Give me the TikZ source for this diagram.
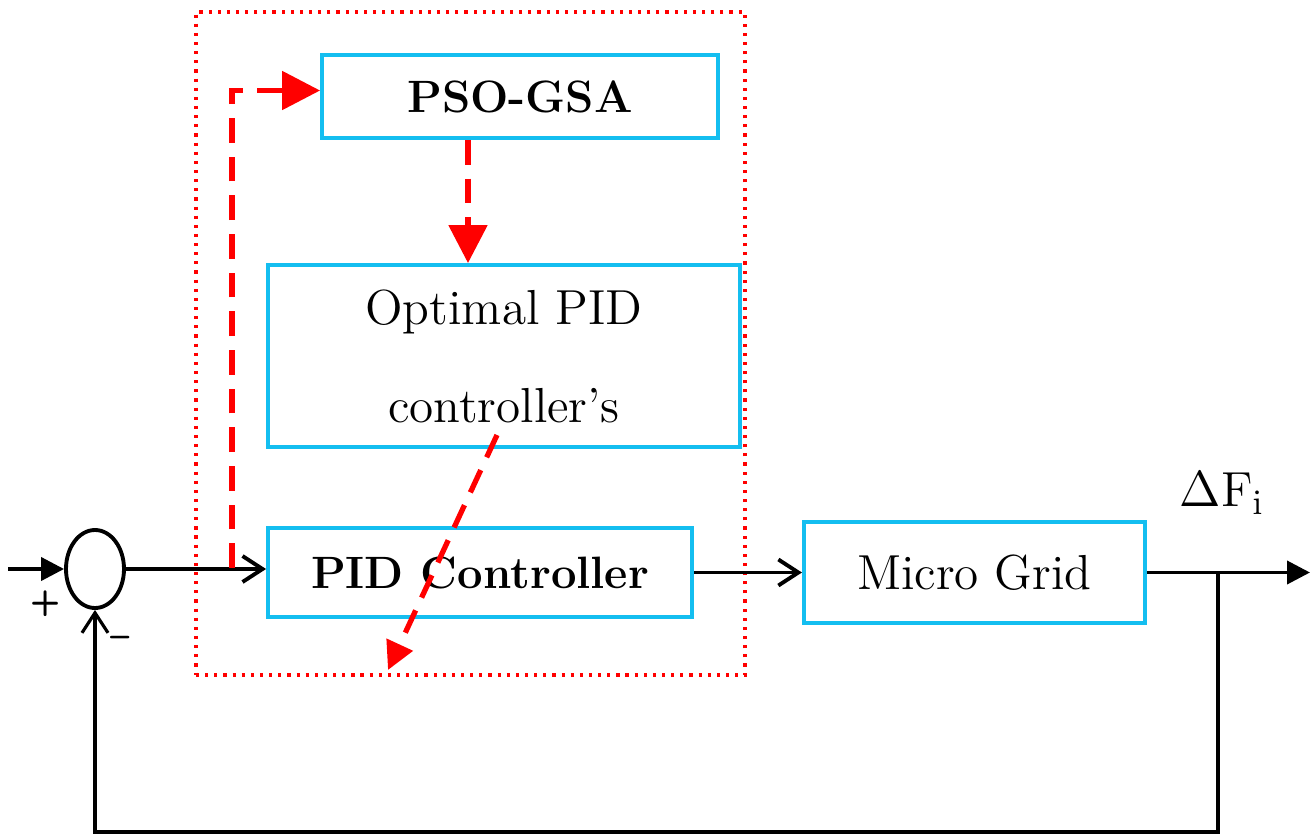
\documentclass[tikz,border=0pt]{standalone}
\usetikzlibrary{arrows.meta,positioning,shapes.geometric}
\definecolor{boxblue}{RGB}{20,190,240}
\begin{document}
\begin{tikzpicture}[
    block/.style={
        rectangle,
        draw=boxblue,
        line width=1.1pt,
        align=center,
        font=\fontsize{14}{17}\selectfont
    },
    boldblock/.style={
        block,
        font=\fontsize{12.9}{15}\selectfont\bfseries
    },
    signal/.style={
        line width=1.1pt,
        -{Straight Barb[length=0.2cm,width=0.26cm]}
    },
    fsignal/.style={
        line width=1.1pt,
        -{Triangle[length=0.23cm,width=0.23cm]}
    },
    tuning/.style={
        red,
        line width=1.5pt,
        dash pattern=on 7pt off 4pt,
        -{Triangle[length=0.38cm,width=0.38cm]}
    }
]
\useasboundingbox (0,0) rectangle (13.16,8.39);

% Optimisation frame
\node[draw=red, line width=0.9pt, dash pattern=on 0.9pt off 1.7pt,
      minimum width=5.49cm, minimum height=6.63cm] (frame) at (4.705,4.955) {};

% Blocks
\node[boldblock, minimum width=3.96cm, minimum height=0.83cm] (pso) at (5.20,7.425) {PSO-GSA};
\node[block, minimum width=4.72cm, minimum height=1.82cm, text depth=-5pt,
      font=\fontsize{14}{28}\selectfont] (optimal) at (5.04,4.83) {Optimal PID\\controller’s};
\node[boldblock, minimum width=4.24cm, minimum height=0.89cm] (pid) at (4.80,2.665) {PID Controller};
\node[block, minimum width=3.41cm, minimum height=1.01cm, right=1.08cm of pid] (micro) {Micro Grid};

% Summing point
\node[draw, ellipse, line width=1.1pt, inner sep=0pt,
      minimum width=0.58cm, minimum height=0.78cm] (sum) at (0.95,2.70) {};
\node[font=\sffamily\bfseries] (plus) at (0.46,2.35) {+};
\node[font=\sffamily\bfseries] (minus) at (1.20,1.97) {--};

% Signals
\coordinate (in) at (0.08,2.70);
\coordinate (out) at (13.10,2.665);
\coordinate (branch) at (12.18,2.665);
\draw[fsignal] (in) -- (sum.west);
\draw[signal] (sum.east) -- (sum.east -| pid.west);
\draw[signal] (pid.east) -- (micro.west);
\draw[fsignal] (micro.east) -- (out);
\draw[signal, line width=0.9pt] (branch) -- ++(0,-2.595) -| (sum.south);
\node[font=\fontsize{14}{17}\selectfont] (dfi) at (12.22,3.46) {$\Delta$F$_{\mathrm{i}}$};

% Tuning loop
\coordinate (loopstart) at (2.32,2.71);
\coordinate (diagstart) at (4.97,4.04);
\coordinate (diagend) at (3.88,1.69);
\draw[tuning] (loopstart) |- ([yshift=0.06cm]pso.west);
\draw[tuning] ([xshift=-0.52cm]pso.south) -- ([xshift=-0.52cm]pso.south |- optimal.north);
\draw[tuning, -{Triangle[length=0.28cm,width=0.28cm]}] (diagstart) -- (diagend);

\end{tikzpicture}
\end{document}
